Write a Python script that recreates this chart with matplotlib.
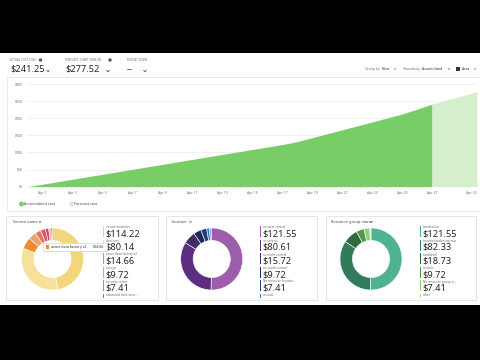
import matplotlib.pyplot as plt
from matplotlib.patches import Rectangle, Circle

W, H = 480, 360

# accumulated daily cost (day 0 = start of Apr 1)
days = list(range(0, 28))
accumulated = [0, 7.0, 14.3, 21.5, 28.8, 36.0, 43.3, 50.5, 57.8, 65.0, 72.3,
               79.5, 86.8, 94.0, 101.3, 108.5, 115.8, 123.0, 131.5, 143.0,
               154.5, 166.0, 177.5, 189.0, 200.5, 212.5, 226.5, 241.25]
forecast_days = [27, 28, 29, 30]
forecast = [241.25, 253.3, 265.4, 277.52]
tick_days = [1, 3, 5, 7, 9, 11, 13, 15, 17, 19, 21, 23, 25, 27, 30]
tick_labels = ["Apr %d" % d for d in tick_days]
y_ticks = [0, 50, 100, 150, 200, 250, 300]

service_names = ["virtual machines", "functions", "azure data factory v2",
                 "storage", "security center", "advanced data secu..."]
service_costs = [114.22, 80.14, 14.66, 9.72, 7.41, 6.1, 4.2, 2.9, 1.9]
service_colors = ["#f3d67c", "#f6e09a", "#ef8a2f", "#e9a36c", "#e27a63",
                  "#d9566b", "#c5457d", "#e8b78a", "#b8607d"]

location_names = ["us west central", "us central", "us north central",
                  "us south central", "No resource location", "us east"]
location_costs = [121.55, 80.61, 15.72, 9.72, 7.41, 3.5, 2.74]
location_colors = ["#9c5eab", "#5c2d80", "#3e2c62", "#1e2a5c", "#233f7c",
                   "#3e72b8", "#6ea6d9"]

group_names = ["cloudnative", "cloudnativedemogroup", "cloudshell",
               "netskills", "No resource group n...", "other"]
group_costs = [121.55, 82.33, 18.73, 9.72, 7.41, 1.51]
group_colors = ["#4fb392", "#2f7b5b", "#2f6b3c", "#4f9c45", "#8fd176",
                "#bfe6a8"]

GREEN = "#78cd66"
LIGHT = "#d5efcd"
GRAY = "#707070"
DARK = "#252525"

plt.rcParams['font.family'] = ['Noto Sans', 'DejaVu Sans']

fig = plt.figure(figsize=(4.8, 3.6), dpi=100, facecolor="black")


def px_axes(x0, y0, x1, y1, z=1):
    return fig.add_axes([x0 / W, 1 - y1 / H, (x1 - x0) / W, (y1 - y0) / H],
                        zorder=z)


# background overlay in pixel coordinates
bg = px_axes(0, 0, W, H, z=0)
bg.set_xlim(0, W)
bg.set_ylim(H, 0)
bg.axis("off")
bg.add_patch(Rectangle((0, 53), W, 252, facecolor="white", edgecolor="none"))
bg.add_patch(Rectangle((7, 77), 480, 134, facecolor="white",
                       edgecolor="#e6e6e6", lw=0.6))
for cx0, cx1 in [(6, 158), (166, 317), (326, 476)]:
    bg.add_patch(Rectangle((cx0, 216), cx1 - cx0, 84, facecolor="white",
                           edgecolor="#e1e1e1", lw=0.6))


def chevron(ax, x, y, s=1.3, c=DARK):
    ax.plot([x - s, x, x + s], [y - s * 0.5, y + s * 0.5, y - s * 0.5],
            color=c, lw=0.5, solid_capstyle="round")


# header
heads = [(10, "ACTUAL COST (USD)", "$241.25", 48, 40.5),
         (65, "FORECAST: CHART VIEW ON", "$277.52", 108, 110),
         (127, "BUDGET: NONE", "--", 145, None)]
for x, lab, val, chx, ix in heads:
    bg.text(x, 60, lab, fontsize=2.0, color=GRAY, va="center")
    bg.text(x, 69.5, val, fontsize=6.6, color=DARK, va="center")
    chevron(bg, chx, 71)
    if ix:
        bg.add_patch(Circle((ix, 60), 1.0, color="#555555"))

bg.text(365, 69, "Group by:", fontsize=2.4, color=GRAY, va="center")
bg.text(382, 69, "None", fontsize=2.4, color=DARK, va="center",
        fontweight="bold")
chevron(bg, 395, 69, 0.9, GRAY)
bg.text(403, 69, "Granularity:", fontsize=2.4, color=GRAY, va="center")
bg.text(421.5, 69, "Accumulated", fontsize=2.4, color=DARK, va="center",
        fontweight="bold")
chevron(bg, 449, 69, 0.9, GRAY)
bg.add_patch(Rectangle((456, 67.3), 3.6, 3.6, facecolor="#333333"))
bg.text(462, 69, "Area", fontsize=2.4, color=DARK, va="center",
        fontweight="bold")
chevron(bg, 475, 69, 0.9, GRAY)

# legend
bg.add_patch(Circle((21.5, 204), 1.7, color=GREEN))
bg.text(24, 204, "Accumulated cost", fontsize=2.7, color="#444444",
        va="center")
bg.add_patch(Rectangle((69.8, 202.4), 3.0, 3.2, facecolor=LIGHT,
                       edgecolor="#b8e0ad", lw=0.3))
bg.text(74, 204, "Forecast cost", fontsize=2.7, color="#444444",
        va="center")

# main area chart
ax = px_axes(27, 84, 477, 186.7, z=2)
ax.patch.set_alpha(0)
ax.fill_between(days, accumulated, color=GREEN, lw=0)
ax.fill_between(forecast_days, forecast, color=LIGHT, lw=0)
ax.set_xlim(0, 30)
ax.set_ylim(0, 300)
ax.set_yticks(y_ticks)
ax.set_yticklabels(["$%d" % v for v in y_ticks])
ax.set_xticks(tick_days)
ax.set_xticklabels(tick_labels)
ax.get_xticklabels()[-1].set_horizontalalignment("right")
ax.tick_params(length=0, labelsize=2.5, labelcolor=GRAY, pad=3)
ax.grid(axis="y", color="#ececec", lw=0.5)
ax.set_axisbelow(True)
for s in ax.spines.values():
    s.set_visible(False)

# donut cards
cards = [(13, "Service name", 40, (52.5, 259), 106, service_names,
          service_costs, service_colors),
         (172, "Location", 190.5, (211.7, 259), 263, location_names,
          location_costs, location_colors),
         (331, "Resource group name", 371.5, (371, 259), 423, group_names,
          group_costs, group_colors)]
for hx, title, chx, (cx, cy), tx, names, costs, colors in cards:
    bg.text(hx, 222, title, fontsize=2.8, color="#444444", va="center")
    chevron(bg, chx, 222, 0.9, "#444444")
    r = 31
    pa = px_axes(cx - r, cy - r, cx + r, cy + r, z=2)
    pa.pie(costs, colors=colors, startangle=90, counterclock=False,
           wedgeprops=dict(width=0.4, edgecolor="white", lw=0.4))
    pa.set_xlim(-1, 1)
    pa.set_ylim(-1, 1)
    for i, name in enumerate(names):
        y0 = 226 + i * 13.5
        h = 11 if i < 5 else 4
        bg.add_patch(Rectangle((tx - 2.8, y0), 1.2, h,
                               facecolor=colors[i], edgecolor="none"))
        bg.text(tx, y0 + 1.5, name, fontsize=2.3, color=GRAY, va="center")
        if i < 5:
            bg.text(tx - 0.5, y0 + 8, "$%.2f" % costs[i], fontsize=6.6,
                    color=DARK, va="center")

# tooltip over the service card
top = px_axes(0, 0, W, H, z=5)
top.set_xlim(0, W)
top.set_ylim(H, 0)
top.axis("off")
top.add_patch(Rectangle((43.5, 243.5), 64, 8.5, facecolor="#bbbbbb",
                        edgecolor="none", alpha=0.5))
top.add_patch(Rectangle((42.7, 242.7), 64, 8.5, facecolor="white",
                        edgecolor="#d0d0d0", lw=0.4))
top.add_patch(Rectangle((45.5, 245.3), 3.2, 3.2, facecolor="#ef8a2f"))
top.text(51, 247, "azure data factory v2", fontsize=2.6, color="#333333",
         va="center")
top.text(93, 247, "$14.66", fontsize=2.6, color=DARK, va="center",
         fontweight="bold")

fig.savefig("out.png", dpi=100, facecolor="black")
